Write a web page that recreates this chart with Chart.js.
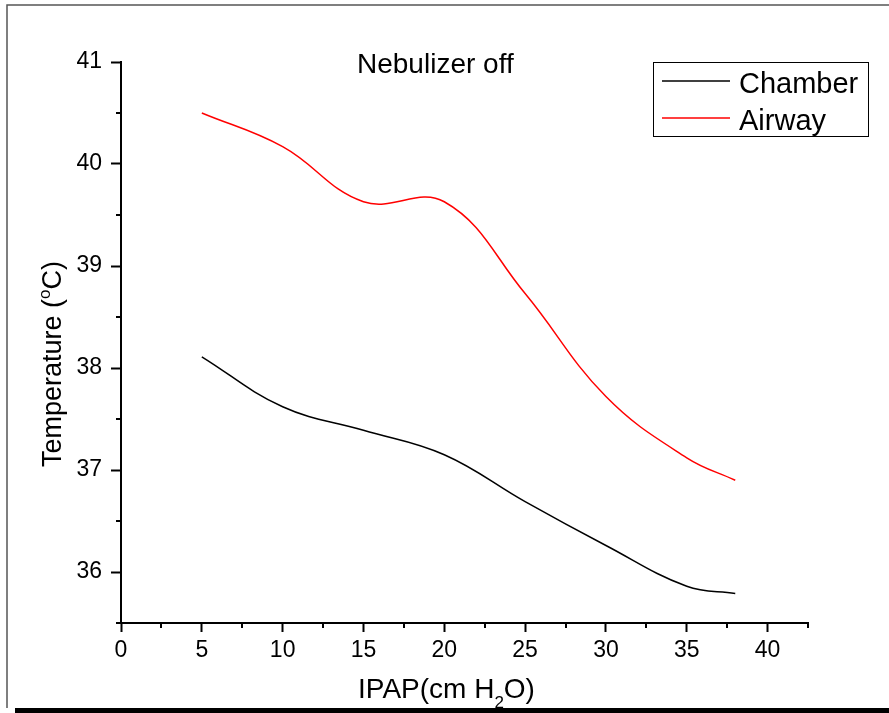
<!DOCTYPE html>
<html>
<head>
<meta charset="utf-8">
<script src="https://cdn.jsdelivr.net/npm/chart.js@4"></script>
<style>
  html, body { margin: 0; padding: 0; background: #fff; }
  #wrap { width: 889px; height: 713px; position: relative; }
</style>
</head>
<body>
<div id="wrap"><canvas id="chart"></canvas></div>
<script>
// values
const ipap    = [5, 10, 15, 20, 25, 30, 35, 38];
const chamber = [38.11, 37.62, 37.39, 37.15, 36.69, 36.26, 35.86, 35.79];
const airway  = [40.50, 40.17, 39.63, 39.63, 38.73, 37.72, 37.12, 36.90];
const seriesNames = ['Chamber', 'Airway'];
const panelTitle = 'Nebulizer off';

const FONT = 'Arial, "Liberation Sans", sans-serif';

function isMajor(v, step) {
  return Math.abs(v / step - Math.round(v / step)) < 1e-6;
}

// minor ticks, frame, titles and legend box
const decor = {
  id: 'decor',
  afterDraw(chart) {
    const ctx = chart.ctx;
    const xs = chart.scales.x, ys = chart.scales.y;
    ctx.save();

    // minor ticks
    ctx.strokeStyle = '#000';
    ctx.lineWidth = 2;
    xs.ticks.forEach(t => {
      if (isMajor(t.value, 5)) return;
      const px = Math.round(xs.getPixelForValue(t.value));
      ctx.beginPath();
      ctx.moveTo(px, xs.top);
      ctx.lineTo(px, xs.top + 5);
      ctx.stroke();
    });
    ys.ticks.forEach(t => {
      if (isMajor(t.value, 1)) return;
      const py = Math.round(ys.getPixelForValue(t.value));
      ctx.beginPath();
      ctx.moveTo(ys.right, py);
      ctx.lineTo(ys.right - 5, py);
      ctx.stroke();
    });

    // outer frame
    ctx.strokeStyle = '#555';
    ctx.lineWidth = 1.5;
    ctx.beginPath();
    ctx.moveTo(7, 708);
    ctx.lineTo(7, 5);
    ctx.lineTo(889, 5);
    ctx.stroke();
    ctx.fillStyle = '#000';
    ctx.fillRect(15, 708, 874, 5);

    // panel title
    ctx.fillStyle = '#000';
    ctx.textBaseline = 'alphabetic';
    ctx.textAlign = 'left';
    ctx.font = '28px ' + FONT;
    ctx.fillText(panelTitle, 357, 73);

    // x axis title: IPAP(cm H2O)
    ctx.font = '28px ' + FONT;
    let x = 358;
    ctx.fillText('IPAP(cm H', x, 698);
    x += ctx.measureText('IPAP(cm H').width;
    ctx.font = '17px ' + FONT;
    ctx.fillText('2', x, 708);
    x += ctx.measureText('2').width;
    ctx.font = '28px ' + FONT;
    ctx.fillText('O)', x, 698);

    // y axis title: Temperature (oC)
    ctx.translate(61, 467);
    ctx.rotate(-Math.PI / 2);
    ctx.font = '27px ' + FONT;
    let y = 0;
    ctx.fillText('Temperature (', y, 0);
    y += ctx.measureText('Temperature (').width;
    ctx.font = '17px ' + FONT;
    ctx.fillText('o', y, -11);
    y += ctx.measureText('o').width;
    ctx.font = '27px ' + FONT;
    ctx.fillText('C)', y, 0);
    ctx.setTransform(1, 0, 0, 1, 0, 0);

    // legend
    ctx.strokeStyle = '#000';
    ctx.lineWidth = 1;
    ctx.strokeRect(653.5, 62.5, 215, 74);
    const rows = [{ ly: 81, by: 93 }, { ly: 118, by: 130 }];
    chart.data.datasets.forEach((ds, i) => {
      ctx.strokeStyle = ds.borderColor;
      ctx.lineWidth = 1.5;
      ctx.beginPath();
      ctx.moveTo(662, rows[i].ly);
      ctx.lineTo(730, rows[i].ly);
      ctx.stroke();
      ctx.fillStyle = '#000';
      ctx.font = '29px ' + FONT;
      ctx.fillText(ds.label, 739, rows[i].by);
    });

    ctx.restore();
  }
};

const ctx = document.getElementById('chart').getContext('2d');
new Chart(ctx, {
  type: 'line',
  data: {
    datasets: [
      {
        label: seriesNames[0],
        data: ipap.map((v, i) => ({ x: v, y: chamber[i] })),
        borderColor: '#000000',
        borderWidth: 1.5,
        pointRadius: 0,
        tension: 0.4,
        fill: false
      },
      {
        label: seriesNames[1],
        data: ipap.map((v, i) => ({ x: v, y: airway[i] })),
        borderColor: '#ff0000',
        borderWidth: 1.5,
        pointRadius: 0,
        tension: 0.4,
        fill: false
      }
    ]
  },
  options: {
    responsive: true,
    maintainAspectRatio: false,
    animation: false,
    layout: { padding: { left: 0, top: 62, right: 81, bottom: 0 } },
    plugins: {
      legend: { display: false },
      tooltip: { enabled: false }
    },
    scales: {
      x: {
        type: 'linear',
        min: 0,
        max: 42.5,
        afterFit: s => { s.height = 90; },
        border: { color: '#000', width: 2 },
        grid: {
          drawOnChartArea: false,
          tickLength: 9,
          tickWidth: 2,
          tickColor: c => isMajor(c.tick.value, 5) ? '#000' : 'rgba(0,0,0,0)'
        },
        ticks: {
          stepSize: 2.5,
          autoSkip: false,
          maxRotation: 0,
          padding: 5,
          color: '#000',
          font: { family: FONT, size: 23 },
          callback: v => isMajor(v, 5) ? String(v) : ''
        }
      },
      y: {
        type: 'linear',
        min: 35.5,
        max: 41,
        afterFit: s => { s.width = 121; },
        border: { color: '#000', width: 2 },
        grid: {
          drawOnChartArea: false,
          tickLength: 10,
          tickWidth: 2,
          tickColor: c => isMajor(c.tick.value, 1) ? '#000' : 'rgba(0,0,0,0)'
        },
        ticks: {
          stepSize: 0.5,
          autoSkip: false,
          padding: 9,
          color: '#000',
          font: { family: FONT, size: 23 },
          callback: v => isMajor(v, 1) ? String(v) : ''
        }
      }
    }
  },
  plugins: [decor]
});
</script>
</body>
</html>
